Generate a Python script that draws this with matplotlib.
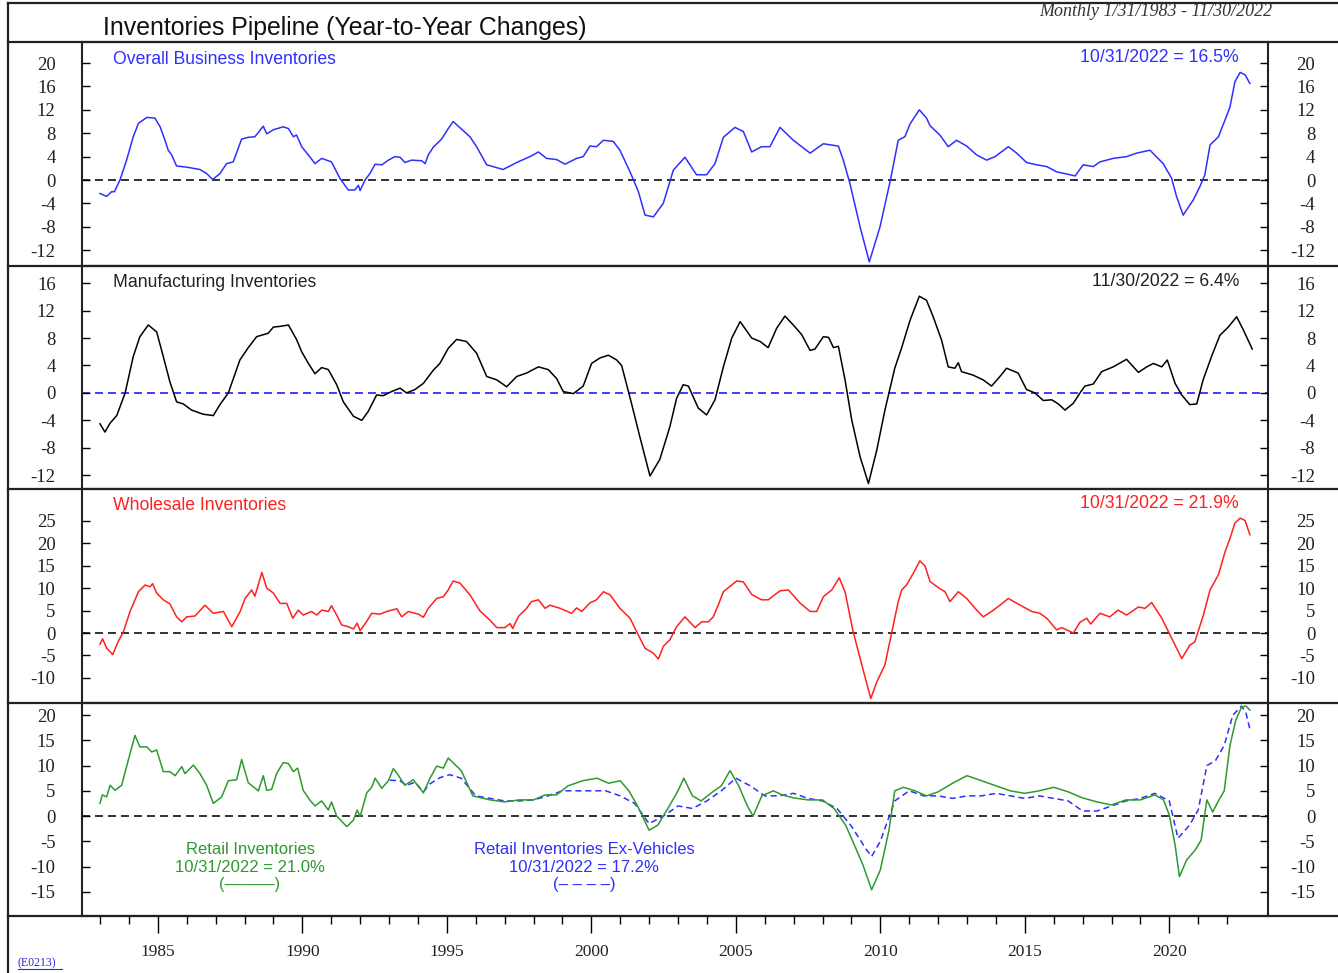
import matplotlib
matplotlib.use("Agg")
import matplotlib.pyplot as plt
from matplotlib.lines import Line2D

# ---- data (decimal year, % y/y) ----
bus_t = [1983.00, 1983.23, 1983.40, 1983.50, 1983.69, 1983.92, 1984.15, 1984.33, 1984.62, 1984.90,
         1985.08, 1985.25, 1985.36, 1985.48, 1985.65, 1986.00, 1986.23, 1986.46, 1986.69, 1986.90,
         1987.15, 1987.38, 1987.61, 1987.90, 1988.13, 1988.36, 1988.65, 1988.77, 1989.00, 1989.34,
         1989.52, 1989.69, 1989.80, 1989.98, 1990.27, 1990.44, 1990.67, 1990.90, 1991.01, 1991.30,
         1991.59, 1991.82, 1991.94, 1992.00, 1992.17, 1992.34, 1992.52, 1992.75, 1992.98, 1993.20,
         1993.38, 1993.55, 1993.78, 1994.13, 1994.25, 1994.36, 1994.53, 1994.82, 1995.05, 1995.22,
         1995.80, 1996.03, 1996.38, 1996.95, 1997.42, 1997.88, 1998.17, 1998.45, 1998.80, 1999.09,
         1999.49, 1999.72, 1999.95, 2000.18, 2000.42, 2000.76, 2000.99, 2001.34, 2001.63, 2001.86,
         2002.15, 2002.49, 2002.84, 2003.24, 2003.64, 2003.99, 2004.28, 2004.57, 2004.97, 2005.26,
         2005.55, 2005.89, 2006.18, 2006.53, 2006.99, 2007.57, 2008.03, 2008.55, 2008.72, 2008.95,
         2009.30, 2009.62, 2009.99, 2010.35, 2010.62, 2010.85, 2011.03, 2011.35, 2011.60, 2011.72,
         2012.06, 2012.35, 2012.64, 2012.99, 2013.33, 2013.68, 2013.97, 2014.43, 2014.72, 2015.06,
         2015.41, 2015.76, 2016.10, 2016.39, 2016.74, 2017.02, 2017.37, 2017.60, 2018.06, 2018.52,
         2018.87, 2019.33, 2019.79, 2020.08, 2020.25, 2020.48, 2020.83, 2021.06, 2021.23, 2021.41,
         2021.70, 2021.93, 2022.10, 2022.27, 2022.45, 2022.62, 2022.79]
bus_v = [-2.3, -2.8, -2.0, -2.0, 0.0, 3.4, 7.4, 9.7, 10.7, 10.6,
         9.1, 6.8, 5.1, 4.3, 2.4, 2.2, 2.0, 1.8, 1.1, 0.1,
         1.1, 2.8, 3.1, 7.0, 7.3, 7.4, 9.2, 7.9, 8.6, 9.1,
         8.8, 7.4, 7.7, 5.7, 3.9, 2.8, 3.7, 3.3, 3.1, 0.3,
         -1.7, -1.7, -0.9, -1.8, 0.0, 1.1, 2.7, 2.6, 3.4, 4.0,
         3.9, 3.0, 3.4, 3.3, 2.8, 4.3, 5.6, 7.0, 8.8, 10.0,
         7.4, 5.7, 2.6, 1.8, 3.0, 4.0, 4.8, 3.7, 3.5, 2.7,
         3.7, 4.0, 5.8, 5.7, 6.8, 6.6, 5.1, 1.4, -2.0, -6.0,
         -6.3, -4.0, 1.7, 3.9, 0.9, 0.9, 2.8, 7.3, 9.0, 8.3,
         4.8, 5.7, 5.7, 9.0, 6.8, 4.6, 6.2, 5.8, 3.4, -0.6,
         -8.0, -14.0, -8.0, 0.0, 6.8, 7.4, 9.6, 12.0, 10.6, 9.3,
         7.7, 5.7, 6.8, 5.8, 4.3, 3.4, 4.0, 5.7, 4.6, 3.0,
         2.6, 2.3, 1.4, 1.1, 0.7, 2.6, 2.3, 3.1, 3.7, 4.0,
         4.6, 5.1, 2.8, 0.3, -2.8, -6.0, -3.4, -1.1, 0.9, 6.0,
         7.4, 10.3, 12.5, 16.8, 18.4, 18.0, 16.5]

mfg_t = [1983.00, 1983.17, 1983.35, 1983.58, 1983.87, 1984.15, 1984.38, 1984.67, 1984.96, 1985.19,
         1985.42, 1985.65, 1985.88, 1986.17, 1986.57, 1986.92, 1987.15, 1987.44, 1987.84, 1988.13,
         1988.42, 1988.82, 1989.00, 1989.23, 1989.52, 1989.80, 1989.98, 1990.21, 1990.44, 1990.67,
         1990.90, 1991.19, 1991.42, 1991.77, 1992.06, 1992.28, 1992.57, 1992.80, 1993.09, 1993.38,
         1993.61, 1993.90, 1994.19, 1994.53, 1994.76, 1995.05, 1995.34, 1995.68, 1996.03, 1996.38,
         1996.73, 1997.07, 1997.42, 1997.76, 1998.17, 1998.51, 1998.80, 1999.03, 1999.38, 1999.72,
         2000.01, 2000.30, 2000.59, 2000.88, 2001.05, 2001.39, 2001.68, 2002.03, 2002.37, 2002.72,
         2002.95, 2003.18, 2003.36, 2003.70, 2003.99, 2004.28, 2004.57, 2004.86, 2005.15, 2005.55,
         2005.84, 2006.12, 2006.41, 2006.70, 2006.99, 2007.28, 2007.57, 2007.74, 2008.03, 2008.21,
         2008.38, 2008.55, 2008.78, 2009.01, 2009.30, 2009.59, 2009.88, 2010.16, 2010.30, 2010.50,
         2010.74, 2011.03, 2011.35, 2011.60, 2011.83, 2012.12, 2012.35, 2012.58, 2012.70, 2012.81,
         2013.21, 2013.56, 2013.85, 2014.14, 2014.37, 2014.77, 2015.06, 2015.35, 2015.64, 2015.93,
         2016.16, 2016.39, 2016.68, 2016.91, 2017.08, 2017.37, 2017.66, 2018.06, 2018.52, 2018.93,
         2019.22, 2019.45, 2019.74, 2019.93, 2020.20, 2020.43, 2020.71, 2020.95, 2021.17, 2021.46,
         2021.75, 2022.04, 2022.33, 2022.56, 2022.87]
mfg_v = [-4.5, -5.7, -4.4, -3.3, 0.0, 5.3, 8.2, 9.9, 8.9, 5.3,
         1.6, -1.3, -1.6, -2.5, -3.1, -3.3, -1.7, 0.0, 4.8, 6.6,
         8.2, 8.7, 9.6, 9.7, 9.9, 7.8, 6.0, 4.3, 2.8, 3.7,
         3.4, 1.2, -1.3, -3.4, -4.0, -2.7, -0.3, -0.4, 0.2, 0.7,
         0.0, 0.5, 1.4, 3.3, 4.3, 6.5, 7.8, 7.5, 5.8, 2.4,
         1.9, 0.9, 2.4, 2.9, 3.8, 3.4, 2.1, 0.2, -0.1, 1.0,
         4.3, 5.1, 5.5, 4.8, 4.0, -1.5, -6.4, -12.1, -9.7, -4.9,
         -0.8, 1.2, 1.0, -2.2, -3.2, -1.0, 3.8, 8.0, 10.4, 8.0,
         7.5, 6.6, 9.4, 11.2, 9.9, 8.5, 6.2, 6.4, 8.2, 8.1,
         6.6, 6.8, 1.9, -3.9, -9.3, -13.2, -8.3, -2.5, 0.0, 3.6,
         6.6, 10.6, 14.1, 13.5, 11.1, 7.7, 3.8, 3.6, 4.4, 3.1,
         2.6, 1.9, 1.0, 2.4, 3.6, 2.9, 0.5, 0.0, -1.1, -1.0,
         -1.6, -2.5, -1.5, 0.0, 1.0, 1.3, 3.1, 3.8, 4.9, 3.0,
         3.8, 4.3, 3.8, 4.8, 1.4, -0.3, -1.7, -1.6, 1.9, 5.3,
         8.4, 9.6, 11.1, 9.2, 6.4]

whl_t = [1983.00, 1983.09, 1983.23, 1983.44, 1983.63, 1983.81, 1984.04, 1984.33, 1984.56, 1984.73,
         1984.82, 1984.96, 1985.19, 1985.42, 1985.65, 1985.83, 1986.00, 1986.29, 1986.63, 1986.92,
         1987.27, 1987.56, 1987.85, 1988.02, 1988.25, 1988.36, 1988.60, 1988.77, 1989.00, 1989.23,
         1989.46, 1989.67, 1989.86, 1990.03, 1990.32, 1990.50, 1990.67, 1990.90, 1991.01, 1991.19,
         1991.36, 1991.59, 1991.77, 1991.90, 1992.00, 1992.23, 1992.40, 1992.69, 1992.92, 1993.27,
         1993.44, 1993.67, 1994.02, 1994.19, 1994.36, 1994.65, 1994.88, 1995.05, 1995.22, 1995.46,
         1995.80, 1996.15, 1996.49, 1996.73, 1997.01, 1997.19, 1997.28, 1997.48, 1997.76, 1997.93,
         1998.17, 1998.40, 1998.57, 1998.92, 1999.32, 1999.49, 1999.67, 1999.95, 2000.18, 2000.42,
         2000.65, 2000.99, 2001.34, 2001.57, 2001.86, 2002.15, 2002.32, 2002.49, 2002.72, 2002.95,
         2003.24, 2003.59, 2003.82, 2004.05, 2004.22, 2004.39, 2004.57, 2004.86, 2005.03, 2005.26,
         2005.55, 2005.89, 2006.12, 2006.53, 2006.82, 2007.22, 2007.57, 2007.80, 2008.03, 2008.32,
         2008.58, 2008.78, 2009.06, 2009.36, 2009.67, 2009.88, 2010.16, 2010.33, 2010.62, 2010.74,
         2010.91, 2011.14, 2011.37, 2011.55, 2011.72, 2012.01, 2012.24, 2012.41, 2012.70, 2012.99,
         2013.28, 2013.56, 2013.85, 2014.14, 2014.43, 2014.84, 2015.24, 2015.52, 2015.76, 2016.10,
         2016.28, 2016.68, 2016.91, 2017.14, 2017.28, 2017.60, 2017.94, 2018.23, 2018.52, 2018.93,
         2019.16, 2019.39, 2019.74, 2019.97, 2020.20, 2020.43, 2020.71, 2020.88, 2021.17, 2021.41,
         2021.70, 2021.93, 2022.10, 2022.27, 2022.45, 2022.62, 2022.79]
whl_v = [-2.5, -1.3, -3.4, -4.8, -1.9, 0.3, 4.8, 9.2, 10.7, 10.3,
         11.0, 8.9, 7.4, 6.5, 3.6, 2.5, 3.6, 3.8, 6.2, 4.4,
         4.8, 1.4, 4.8, 7.7, 9.6, 8.2, 13.5, 10.0, 8.9, 6.6,
         6.6, 3.3, 5.1, 4.0, 4.8, 4.0, 5.1, 4.8, 6.1, 4.0,
         1.8, 1.4, 0.9, 2.2, 0.5, 2.6, 4.4, 4.2, 4.8, 5.4,
         3.6, 4.8, 4.2, 3.5, 5.5, 7.7, 8.1, 9.6, 11.6, 11.1,
         8.5, 4.9, 2.9, 1.2, 1.2, 2.1, 1.0, 3.7, 5.5, 7.0,
         7.4, 5.5, 6.2, 5.5, 4.4, 5.6, 4.8, 6.7, 7.4, 9.2,
         8.5, 5.5, 3.3, 0.3, -3.4, -4.5, -5.8, -3.0, -1.5, 1.4,
         3.6, 1.2, 2.5, 2.5, 3.6, 6.2, 9.2, 10.7, 11.6, 11.4,
         8.6, 7.4, 7.4, 9.4, 9.6, 6.7, 4.8, 4.8, 8.1, 9.6,
         12.3, 9.2, 0.3, -7.1, -14.6, -10.9, -7.1, -1.9, 7.0, 9.6,
         10.7, 13.3, 16.1, 14.9, 11.5, 10.1, 9.2, 7.0, 9.2, 7.7,
         5.5, 3.6, 4.8, 6.2, 7.7, 6.2, 4.8, 4.4, 3.3, 0.7,
         1.2, 0.0, 2.4, 3.3, 2.0, 4.4, 3.6, 5.1, 4.0, 5.8,
         5.5, 6.8, 3.3, 0.3, -2.7, -5.7, -2.7, -2.0, 3.8, 9.6,
         13.0, 18.1, 21.1, 24.5, 25.6, 25.1, 21.9]

ret_t = [1983.00, 1983.08, 1983.23, 1983.35, 1983.52, 1983.75, 1983.98, 1984.21, 1984.38, 1984.62,
         1984.79, 1984.96, 1985.19, 1985.42, 1985.60, 1985.83, 1985.94, 1986.23, 1986.46, 1986.69,
         1986.92, 1987.21, 1987.44, 1987.73, 1987.90, 1988.13, 1988.48, 1988.65, 1988.77, 1988.94,
         1989.11, 1989.34, 1989.52, 1989.69, 1989.84, 1990.03, 1990.27, 1990.44, 1990.67, 1990.90,
         1991.01, 1991.19, 1991.54, 1991.77, 1991.90, 1992.00, 1992.23, 1992.40, 1992.52, 1992.75,
         1992.98, 1993.15, 1993.32, 1993.55, 1993.84, 1994.19, 1994.42, 1994.65, 1994.88, 1995.05,
         1995.50, 1995.90, 1996.50, 1997.00, 1997.50, 1998.00, 1998.40, 1998.80, 1999.20, 1999.70,
         2000.20, 2000.60, 2001.00, 2001.30, 2001.60, 2002.00, 2002.30, 2002.70, 2003.00, 2003.20,
         2003.50, 2003.80, 2004.20, 2004.50, 2004.80, 2005.10, 2005.40, 2005.60, 2005.90, 2006.30,
         2006.60, 2007.00, 2007.50, 2008.00, 2008.40, 2008.80, 2009.10, 2009.40, 2009.70, 2010.00,
         2010.30, 2010.50, 2010.80, 2011.20, 2011.60, 2012.00, 2012.50, 2013.00, 2013.50, 2014.00,
         2014.50, 2015.00, 2015.50, 2016.00, 2016.50, 2017.00, 2017.50, 2018.00, 2018.50, 2019.00,
         2019.50, 2019.80, 2020.00, 2020.20, 2020.35, 2020.60, 2020.90, 2021.10, 2021.30, 2021.50,
         2021.70, 2021.90, 2022.10, 2022.30, 2022.50, 2022.65, 2022.79]
ret_v = [2.5, 4.2, 3.8, 6.1, 5.1, 6.1, 11.1, 16.0, 13.7, 13.7,
         12.7, 13.1, 8.8, 8.8, 8.0, 9.8, 8.4, 10.1, 8.4, 6.1,
         2.5, 3.8, 7.0, 7.2, 11.2, 6.6, 5.0, 8.0, 5.1, 5.3,
         8.4, 10.6, 10.4, 8.8, 9.5, 5.1, 3.1, 2.0, 3.0, 1.2,
         2.8, 0.0, -2.1, -0.8, 1.2, -0.1, 4.6, 5.7, 7.5, 5.5,
         7.0, 9.4, 8.1, 6.1, 7.2, 4.6, 7.5, 9.9, 9.5, 11.5,
         9.0, 4.0, 3.2, 2.8, 3.2, 3.2, 4.2, 4.2, 6.0, 7.0,
         7.5, 6.5, 7.0, 5.0, 2.0, -2.8, -1.8, 2.0, 5.0, 7.5,
         4.0, 3.0, 4.8, 6.0, 9.0, 6.0, 2.0, 0.0, 4.0, 5.0,
         4.2, 3.6, 3.2, 3.2, 1.5, -1.8, -5.7, -9.7, -14.6, -10.7,
         -2.8, 5.0, 5.7, 5.0, 4.0, 4.8, 6.5, 8.0, 7.0, 6.0,
         5.0, 4.5, 5.0, 5.7, 4.8, 3.6, 2.8, 2.2, 3.2, 3.2,
         4.2, 3.2, 0.2, -5.7, -12.0, -8.7, -6.7, -4.8, 3.2, 0.8,
         3.0, 5.0, 14.0, 19.0, 21.6, 21.8, 21.0]

rxv_t = [1993.03, 1993.38, 1993.61, 1993.90, 1994.19, 1994.42, 1994.76, 1995.10, 1995.50, 1996.00,
         1996.50, 1997.00, 1997.50, 1998.00, 1998.50, 1999.00, 1999.50, 2000.00, 2000.50, 2001.00,
         2001.50, 2002.00, 2002.50, 2003.00, 2003.50, 2004.00, 2004.50, 2005.00, 2005.50, 2006.00,
         2006.50, 2007.00, 2007.50, 2008.00, 2008.50, 2009.00, 2009.50, 2009.70, 2010.00, 2010.50,
         2011.00, 2011.50, 2012.00, 2012.50, 2013.00, 2013.50, 2014.00, 2014.50, 2015.00, 2015.50,
         2016.00, 2016.50, 2017.00, 2017.50, 2018.00, 2018.50, 2019.00, 2019.50, 2020.00, 2020.30,
         2020.70, 2021.00, 2021.30, 2021.60, 2021.90, 2022.20, 2022.50, 2022.65, 2022.79]
rxv_v = [7.1, 7.0, 6.1, 6.7, 4.8, 6.4, 7.6, 8.2, 7.5, 4.0,
         3.5, 3.0, 3.0, 3.2, 4.0, 5.0, 5.0, 5.0, 5.0, 4.0,
         2.5, -1.5, 0.0, 2.0, 1.5, 3.0, 5.0, 7.5, 6.0, 4.0,
         4.0, 4.5, 3.5, 3.0, 1.5, -2.0, -6.5, -8.0, -5.0, 3.0,
         5.0, 4.0, 4.0, 3.5, 4.0, 4.0, 4.5, 4.0, 3.5, 4.0,
         3.5, 3.0, 1.0, 1.0, 2.0, 3.0, 3.5, 4.5, 3.0, -4.4,
         -1.8, 1.2, 10.0, 11.0, 14.0, 20.0, 21.8, 20.5, 17.2]

year_ticks = [1985, 1990, 1995, 2000, 2005, 2010, 2015, 2020]

BLUE = "#2f2fff"
RED = "#ff2020"
GREEN = "#2e9a2e"
INK = "#222222"

W, H = 1338, 973
fig = plt.figure(figsize=(W / 100, H / 100), dpi=100)
plt.rcParams["font.family"] = ["Liberation Sans", "DejaVu Sans"]

LEFT, RIGHT = 82, 1268
PX_PER_YEAR = 28.9
XMIN = 1983 + (LEFT - 100) / PX_PER_YEAR
XMAX = 1983 + (RIGHT - 100) / PX_PER_YEAR
SERIF = ["Liberation Serif", "DejaVu Serif"]

panels = [
    dict(top=42, bot=266, ylim=(-14.7, 23.6), ticks=[-12, -8, -4, 0, 4, 8, 12, 16, 20], zero=INK),
    dict(top=266, bot=489, ylim=(-14.0, 18.5), ticks=[-12, -8, -4, 0, 4, 8, 12, 16], zero=BLUE),
    dict(top=489, bot=703, ylim=(-15.6, 32.1), ticks=[-10, -5, 0, 5, 10, 15, 20, 25], zero=INK),
    dict(top=703, bot=916, ylim=(-19.8, 22.4), ticks=[-15, -10, -5, 0, 5, 10, 15, 20], zero=INK),
]

axes = []
for p in panels:
    ax = fig.add_axes([LEFT / W, 1 - p["bot"] / H, (RIGHT - LEFT) / W, (p["bot"] - p["top"]) / H])
    ax.set_xlim(XMIN, XMAX)
    ax.set_ylim(*p["ylim"])
    ax.set_yticks(p["ticks"])
    ax.set_yticklabels([str(t) for t in p["ticks"]], family=SERIF, fontsize=13.5, color=INK)
    ax.tick_params(axis="y", direction="in", length=6, width=1, pad=19, left=True, right=False)
    ax.tick_params(axis="x", bottom=False, labelbottom=False)
    for s in ax.spines.values():
        s.set_linewidth(1.5)
        s.set_color(INK)
    ax.axhline(0, color=p["zero"], lw=1.3, dashes=(4.4, 2.8), zorder=1)
    # right-hand scale, right aligned like the original
    ax2 = ax.twinx()
    ax2.set_ylim(*p["ylim"])
    ax2.set_yticks(p["ticks"])
    ax2.set_yticklabels([str(t) for t in p["ticks"]], family=SERIF, fontsize=13.5, color=INK)
    ax2.tick_params(axis="y", direction="in", length=6, width=1, pad=34)
    for lab in ax2.get_yticklabels():
        lab.set_horizontalalignment("right")
    for s in ax2.spines.values():
        s.set_visible(False)
    axes.append(ax)

ax1, ax2_, ax3, ax4 = axes

ax1.plot(bus_t, bus_v, color=BLUE, lw=1.1, zorder=3)
ax2_.plot(mfg_t, mfg_v, color="black", lw=1.1, zorder=3)
ax3.plot(whl_t, whl_v, color=RED, lw=1.1, zorder=3)
ax4.plot(rxv_t, rxv_v, color=BLUE, lw=1.1, dashes=(4, 2.5), zorder=3)
ax4.plot(ret_t, ret_v, color=GREEN, lw=1.1, zorder=4)

# bottom year axis
ax4.set_xticks(year_ticks)
ax4.set_xticklabels([str(y) for y in year_ticks], family=SERIF, fontsize=12.5, color=INK)
ax4.set_xticks(range(1983, 2023), minor=True)
ax4.tick_params(axis="x", which="major", bottom=True, labelbottom=True, direction="out",
                length=12, width=1, pad=8)
ax4.tick_params(axis="x", which="minor", bottom=True, direction="out", length=6, width=1)


def label(x, y, s, color, ha="left", size=12.7):
    fig.text(x / W, 1 - y / H, s, color=color, ha=ha, va="center", fontsize=size)


label(113, 60, "Overall Business Inventories", BLUE)
label(1239, 57, "10/31/2022 = 16.5%", BLUE, ha="right")
label(113, 283, "Manufacturing Inventories", INK)
label(1239, 281, "11/30/2022 = 6.4%", INK, ha="right")
label(113, 506, "Wholesale Inventories", RED)
label(1239, 504, "10/31/2022 = 21.9%", RED, ha="right")

fig.text(250 / W, 1 - 867 / H, "Retail Inventories\n10/31/2022 = 21.0%\n(\u2014\u2014\u2014)",
         color=GREEN, ha="center", va="center", fontsize=12, linespacing=1.2)
fig.text(584 / W, 1 - 867 / H, "Retail Inventories Ex-Vehicles\n10/31/2022 = 17.2%\n(\u2013 \u2013 \u2013 \u2013)",
         color=BLUE, ha="center", va="center", fontsize=12, linespacing=1.2)

# title area
fig.text(103 / W, 1 - 28 / H, "Inventories Pipeline (Year-to-Year Changes)", fontsize=17.9,
         color="#111111", ha="left", va="center")
fig.text(1272 / W, 1 - 11 / H, "Monthly 1/31/1983 - 11/30/2022", family=SERIF, style="italic",
         fontsize=13, color="#333333", ha="right", va="center")
fig.text(18 / W, 1 - 963 / H, "(E0213)", family=SERIF, fontsize=8.5, color="#2a2acc",
         ha="left", va="center")
fig.add_artist(Line2D([18 / W, 62 / W], [1 - 969 / H, 1 - 969 / H], transform=fig.transFigure,
                      color="#2a2acc", lw=0.8))

# outer frame and separators
frame_kw = dict(transform=fig.transFigure, color=INK, lw=1.6)
for yy in [3, 42, 266, 489, 703, 916]:
    fig.add_artist(Line2D([8 / W, 1.0], [1 - yy / H, 1 - yy / H], **frame_kw))
fig.add_artist(Line2D([8 / W, 8 / W], [1 - 3 / H, 0.0], **frame_kw))

fig.savefig("out.png", dpi=100)
